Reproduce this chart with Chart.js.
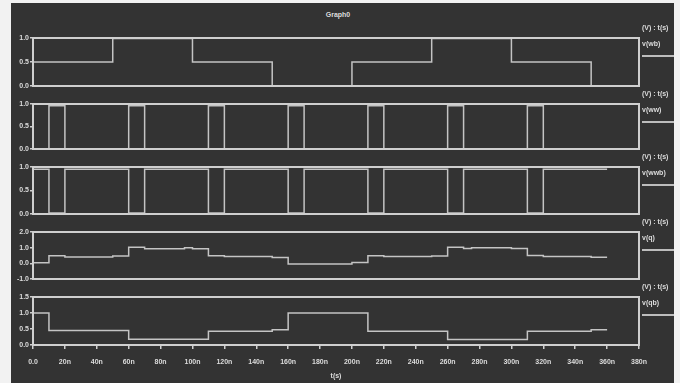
<!DOCTYPE html>
<html>
<head>
<meta charset="utf-8">
<script src="https://cdn.jsdelivr.net/npm/chart.js@4/dist/chart.umd.min.js"></script>
<style>
    body { margin: 0; background: #f2f2f2; width: 680px; height: 383px; overflow: hidden; }
    #board { position: absolute; left: 11px; top: 3px; width: 663px; height: 380px; background: #333333; }
    canvas { position: absolute; left: 0; }
    .txt { position: absolute; font: bold 7px "Liberation Sans", Arial, sans-serif; color: #dcdcdc; line-height: 8px; white-space: nowrap; -webkit-font-smoothing: antialiased; }
    .swatch { position: absolute; left: 642px; width: 32px; height: 0; border-top: 2px solid #bdbdbd; }
</style>
</head>
<body>
<div id="board"></div>
<div id="stage"></div>
<script>
// time in ns, values in V (each value holds from its time until the next one)
const timeWb = [0, 50, 100, 150, 200, 250, 300, 350, 360]
const valWb = [0.5, 0.99, 0.5, 0.0, 0.5, 0.99, 0.5, 0.0, 0.0]

const timeWw = [0, 10, 20, 60, 70, 110, 120, 160, 170, 210, 220, 260, 270, 310, 320, 360]
const valWw = [0, 0.96, 0, 0.96, 0, 0.96, 0, 0.96, 0, 0.96, 0, 0.96, 0, 0.96, 0, 0]
const valWwb = [0.95, 0.02, 0.95, 0.02, 0.95, 0.02, 0.95, 0.02, 0.95, 0.02, 0.95, 0.02, 0.95, 0.02, 0.95, 0.95]

const timeQ = [0, 10, 20, 50, 60, 70, 95, 100, 110, 120, 150, 160, 200, 210, 220, 250, 260, 270, 275, 300, 310, 320, 350, 360]
const valQ = [0.04, 0.48, 0.41, 0.47, 1.02, 0.93, 1.0, 0.93, 0.48, 0.43, 0.37, -0.05, 0.05, 0.48, 0.43, 0.47, 1.02, 0.95, 1.0, 0.95, 0.5, 0.44, 0.39, 0.39]

const timeQb = [0, 10, 60, 110, 150, 160, 210, 260, 310, 350, 360]
const valQb = [1.0, 0.45, 0.18, 0.43, 0.48, 1.0, 0.43, 0.17, 0.43, 0.48, 0.48]

const xTicks = [0, 20, 40, 60, 80, 100, 120, 140, 160, 180, 200, 220, 240, 260, 280, 300, 320, 340, 360, 380]
const signalNames = ['v(wb)', 'v(ww)', 'v(wwb)', 'v(q)', 'v(qb)']
const axisUnit = '(V) : t(s)'

const panels = [
    { name: signalNames[0], t: timeWb, v: valWb, min: 0, max: 1, step: 0.5, top: 38, h: 48 },
    { name: signalNames[1], t: timeWw, v: valWw, min: 0, max: 1, step: 0.5, top: 104, h: 45 },
    { name: signalNames[2], t: timeWw, v: valWwb, min: 0, max: 1, step: 0.5, top: 167, h: 47 },
    { name: signalNames[3], t: timeQ, v: valQ, min: -1, max: 2, step: 1, top: 232, h: 47 },
    { name: signalNames[4], t: timeQb, v: valQb, min: 0, max: 1.5, step: 0.5, top: 297, h: 48 }
]

const fg = '#dcdcdc'
const font = { family: '"Liberation Sans", Arial, sans-serif', size: 7, weight: 'bold' }
const padTop = 8
const xAxisHeight = 35

// box around each plot area
const framePlugin = {
    id: 'frame',
    afterDatasetsDraw(chart) {
        let a = chart.chartArea
        let ctx = chart.ctx
        ctx.save()
        ctx.strokeStyle = '#cfcfcf'
        ctx.lineWidth = 2
        ctx.strokeRect(a.left, a.top, a.right - a.left, a.bottom - a.top)
        ctx.restore()
    }
}

let stage = document.getElementById('stage')

function addText(text, x, y) {
    let d = document.createElement('div')
    d.className = 'txt'
    d.textContent = text
    d.style.left = x + 'px'
    d.style.top = (y - 4) + 'px'
    stage.appendChild(d)
    return d
}

panels.forEach((p, i) => {
    let last = i === panels.length - 1
    let canvas = document.createElement('canvas')
    let height = p.h + padTop + (last ? xAxisHeight : 8)
    canvas.width = 680
    canvas.height = height
    canvas.style.top = (p.top - padTop) + 'px'
    stage.appendChild(canvas)

    let points = p.t.map((t, k) => ({ x: t, y: p.v[k] }))

    new Chart(canvas.getContext('2d'), {
        type: 'line',
        data: {
            datasets: [{
                label: p.name,
                data: points,
                stepped: 'before',
                borderColor: '#c4c4c4',
                borderWidth: 1.5,
                pointRadius: 0,
                fill: false,
                clip: 4
            }]
        },
        options: {
            responsive: false,
            animation: false,
            layout: { padding: { left: 0, right: 41, top: padTop, bottom: last ? 0 : 8 } },
            plugins: { legend: { display: false }, tooltip: { enabled: false } },
            scales: {
                x: {
                    type: 'linear',
                    display: last,
                    min: 0,
                    max: 380,
                    afterBuildTicks: axis => { axis.ticks = xTicks.map(v => ({ value: v })) },
                    afterFit: axis => { if (last) axis.height = xAxisHeight },
                    ticks: {
                        color: fg,
                        font: font,
                        padding: 9,
                        maxRotation: 0,
                        autoSkip: false,
                        callback: v => v === 0 ? '0.0' : v + 'n'
                    },
                    grid: { drawOnChartArea: false, tickLength: 4, color: '#cfcfcf', lineWidth: 1.5 },
                    border: { display: false },
                    title: { display: true, text: 't(s)', color: fg, font: font, padding: { top: 0, bottom: 0 } }
                },
                y: {
                    min: p.min,
                    max: p.max,
                    afterFit: axis => { axis.width = 33 },
                    ticks: {
                        stepSize: p.step,
                        color: fg,
                        font: font,
                        padding: 1,
                        callback: v => v.toFixed(1)
                    },
                    grid: { drawOnChartArea: false, tickLength: 3, color: '#cfcfcf', lineWidth: 1.5 },
                    border: { display: false }
                }
            }
        },
        plugins: [framePlugin]
    })

    // legend block on the right
    addText(axisUnit, 642, p.top - 10)
    addText(p.name, 642, p.top + 6)
    let sw = document.createElement('div')
    sw.className = 'swatch'
    sw.style.top = (p.top + 17) + 'px'
    stage.appendChild(sw)
})

let title = addText('Graph0', 0, 15)
title.style.left = '338px'
title.style.transform = 'translateX(-50%)'
</script>
</body>
</html>
